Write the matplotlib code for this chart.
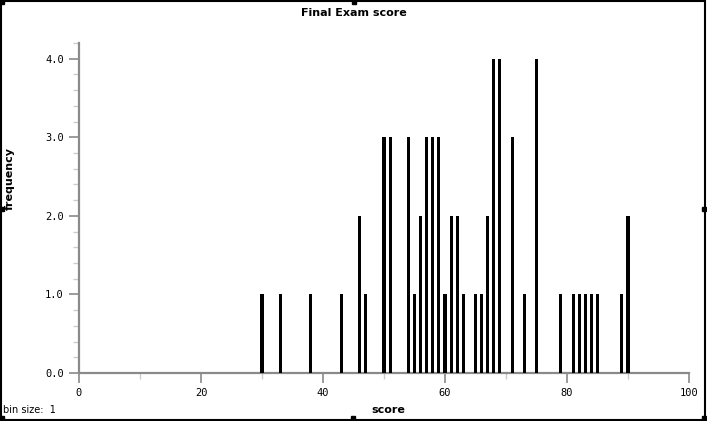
import matplotlib.pyplot as plt
from matplotlib.ticker import MultipleLocator, FormatStrFormatter
from matplotlib.patches import Rectangle

# histogram of final exam scores, bin size 1
scores = [30, 33, 38, 43, 46, 47, 50, 51, 54, 55, 56, 57, 58, 59, 60, 61, 62, 63,
          65, 66, 67, 68, 69, 71, 73, 75, 79, 81, 82, 83, 84, 85, 89, 90]
freq = [1, 1, 1, 1, 2, 1, 3, 3, 3, 1, 2, 3, 3, 3, 1, 2, 2, 1,
        1, 1, 2, 4, 4, 3, 1, 4, 1, 1, 1, 1, 1, 1, 1, 2]

W, H = 707, 421
fig = plt.figure(figsize=(W / 100, H / 100), dpi=100)
ax = fig.add_axes([79 / W, (H - 373) / H, (689 - 79) / W, (373 - 43) / H])

ax.bar(scores, freq, width=0.5, color="black", align="center", zorder=3,
       linewidth=0, antialiased=False)

ax.set_xlim(0, 100)
ax.set_ylim(0, 4.2)

gray = "#8a8a8a"
for side in ["top", "right"]:
    ax.spines[side].set_visible(False)
for side in ["left", "bottom"]:
    ax.spines[side].set_color(gray)
    ax.spines[side].set_linewidth(1.6)

ax.xaxis.set_major_locator(MultipleLocator(20))
ax.xaxis.set_minor_locator(MultipleLocator(10))
ax.yaxis.set_major_locator(MultipleLocator(1))
ax.yaxis.set_minor_locator(MultipleLocator(0.2))
ax.yaxis.set_major_formatter(FormatStrFormatter("%.1f"))

ax.tick_params(which="major", length=7, width=1.2, color=gray, direction="out",
               labelsize=7.5, pad=4)
ax.tick_params(which="minor", length=4, width=1, color="#cccccc", direction="out")
for lab in ax.get_xticklabels() + ax.get_yticklabels():
    lab.set_family("DejaVu Sans Mono")

fig.text(0.5, 1 - 13 / H, "Final Exam score", ha="center", va="center",
         fontsize=8, fontweight="bold")
fig.text(388 / W, 1 - 410 / H, "score", ha="center", va="center",
         fontsize=8, fontweight="bold")
fig.text(10 / W, 1 - 178 / H, "frequency", ha="center", va="center",
         rotation=90, fontsize=8, fontweight="bold")
fig.text(3 / W, 1 - 410 / H, "bin size:  1", ha="left", va="center", fontsize=7)

# window border and selection handles
fig.patches.append(Rectangle((1 / W, 1 / H), (W - 3) / W, (H - 2) / H,
                             transform=fig.transFigure, fill=False,
                             edgecolor="black", linewidth=1.5))
for hx, hy in [(0, 0), (352, 0), (0, 207), (702, 207), (0, 416), (351, 416), (702, 416)]:
    fig.patches.append(Rectangle((hx / W, 1 - (hy + 4) / H), 4 / W, 4 / H,
                                 transform=fig.transFigure, color="black"))

fig.savefig("out.png", dpi=100)
